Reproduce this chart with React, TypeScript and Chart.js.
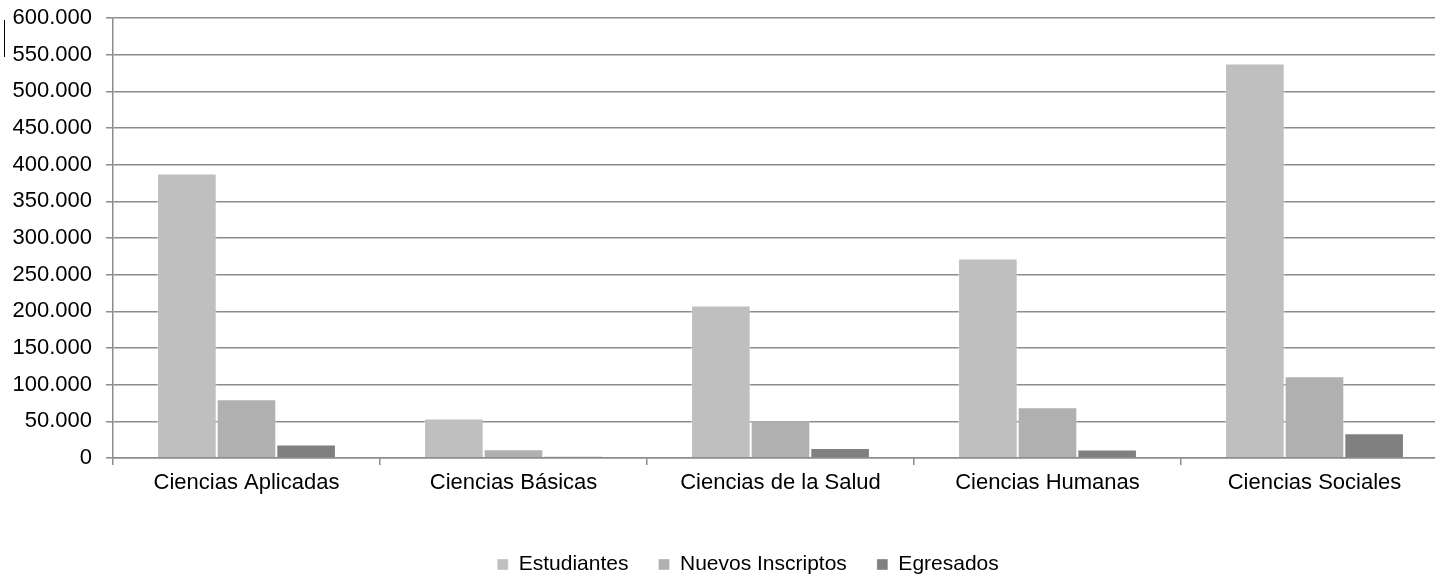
import React, { useEffect, useRef } from "react";
import { Chart, registerables } from "chart.js";

Chart.register(...registerables);

const categories = [
  "Ciencias Aplicadas",
  "Ciencias Básicas",
  "Ciencias de la Salud",
  "Ciencias Humanas",
  "Ciencias Sociales",
];
const estudiantes = [388000, 53700, 208000, 272000, 538000];
const nuevosInscriptos = [80000, 11900, 51500, 69200, 111400];
const egresados = [18300, 2300, 13800, 11600, 33700];
const seriesNames = ["Estudiantes", "Nuevos Inscriptos", "Egresados"];
const seriesColors = ["#bfbfbf", "#b0b0b0", "#808080"];

const formatTick = (v: number) =>
  v === 0 ? "0" : Math.round(v).toString().replace(/\B(?=(\d{3})+(?!\d))/g, ".");

export default function App() {
  const ref = useRef<HTMLCanvasElement | null>(null);

  useEffect(() => {
    document.body.style.margin = "0";
    const canvas = ref.current;
    if (!canvas) return;
    const tickFont = { family: "'Liberation Sans', Arial, sans-serif", size: 22 };
    const legendFont = { family: "'Liberation Sans', Arial, sans-serif", size: 21 };
    const values = [estudiantes, nuevosInscriptos, egresados];
    const legendShift = {
      id: "legendShift",
      afterLayout(chart: any) {
        if (chart.legend) {
          chart.legend.left += 24;
          chart.legend.right += 24;
        }
      },
    };
    const chart = new Chart(canvas, {
      type: "bar",
      data: {
        labels: categories,
        datasets: values.map((d, i) => ({
          label: seriesNames[i],
          data: d,
          backgroundColor: seriesColors[i],
          borderColor: "rgba(255,255,255,0.35)",
          borderWidth: 1,
          barPercentage: 1,
          categoryPercentage: 0.67,
        })),
      },
      options: {
        animation: false,
        responsive: false,
        maintainAspectRatio: false,
        layout: { padding: { top: 18, left: 0, right: 0, bottom: -10 } },
        plugins: {
          tooltip: { enabled: false },
          legend: {
            position: "bottom",
            labels: {
              font: legendFont,
              color: "#000",
              boxWidth: 11,
              boxHeight: 11,
              padding: 30,
            },
          },
        },
        scales: {
          x: {
            grid: {
              drawOnChartArea: false,
              drawTicks: true,
              tickLength: 7,
              offset: true,
              color: "#8c8c8c",
              lineWidth: 1.5,
            },
            border: { color: "#8c8c8c", width: 1.5 },
            ticks: { font: tickFont, color: "#000", padding: 5, maxRotation: 0 },
            afterFit(scale: any) {
              scale.height = 66;
            },
          },
          y: {
            min: 0,
            max: 600000,
            grid: {
              drawTicks: true,
              tickLength: 7,
              color: "#8c8c8c",
              lineWidth: 1.5,
            },
            border: { color: "#8c8c8c", width: 1.5 },
            ticks: {
              stepSize: 50000,
              font: tickFont,
              color: "#000",
              padding: 14,
              callback: (v: any) => formatTick(Number(v)),
            },
            afterFit(scale: any) {
              scale.width = 113;
              scale.paddingTop = 0;
              scale.paddingBottom = 0;
            },
          },
        },
      },
      plugins: [legendShift],
    });
    return () => chart.destroy();
  }, []);

  return (
    <div
      style={{
        position: "relative",
        width: 1435,
        height: 575,
        overflow: "hidden",
        background: "#fff",
      }}
    >
      <canvas ref={ref} width={1448} height={575} style={{ display: "block" }} />
      <div
        style={{
          position: "absolute",
          left: 4,
          top: 20,
          width: 1,
          height: 37,
          background: "#000",
        }}
      />
    </div>
  );
}
